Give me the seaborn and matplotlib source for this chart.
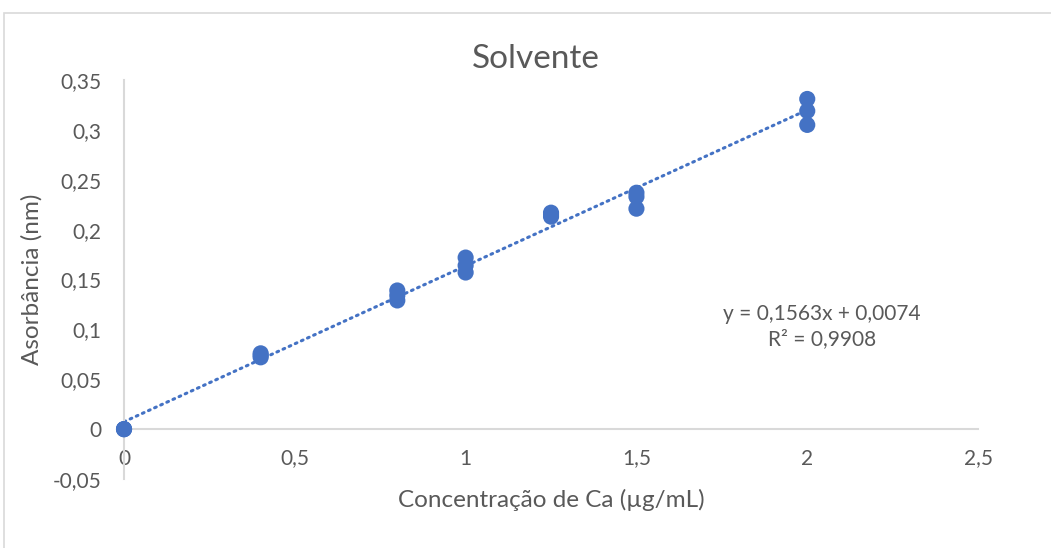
import numpy as np
import pandas as pd
import seaborn as sns
import matplotlib
matplotlib.use('Agg')
import matplotlib.pyplot as plt
from matplotlib.patches import Rectangle

# data
conc = [0, 0, 0, 0.4, 0.4, 0.4, 0.8, 0.8, 0.8, 1.0, 1.0, 1.0, 1.25, 1.25, 1.25, 1.5, 1.5, 1.5, 2.0, 2.0, 2.0]
absorb = [0, 0, 0, 0.076, 0.074, 0.072, 0.139, 0.134, 0.129, 0.172, 0.164, 0.157,
          0.217, 0.213, 0.215, 0.237, 0.233, 0.221, 0.331, 0.319, 0.305]
slope = 0.1563
intercept = 0.0074
r2 = 0.9908
x_ticks = [0, 0.5, 1, 1.5, 2, 2.5]
y_ticks = [-0.05, 0, 0.05, 0.1, 0.15, 0.2, 0.25, 0.3, 0.35]

blue = '#4472C4'
grey = '#D9D9D9'
text_col = '#595959'

sns.set_style('white')
plt.rcParams['font.family'] = ['Lato', 'DejaVu Sans']

def fmt(v):
    return f'{v:g}'.replace('.', ',')

df = pd.DataFrame({'conc': conc, 'abs': absorb})

fig = plt.figure(figsize=(10.51, 5.48), dpi=100)
ax = fig.add_axes([0.118, 0.1259, 0.8126, 0.7281])

# linear trendline (Excel style, dotted)
xs = np.array([0, 2.0])
ax.plot(xs, slope * xs + intercept, color=blue, lw=2.2,
        linestyle=(0, (0.6, 1.6)), dash_capstyle='round', zorder=2)

sns.scatterplot(data=df, x='conc', y='abs', ax=ax, s=135, color=blue,
                edgecolor='none', zorder=3, clip_on=False)

ax.set_xlim(0, 2.5)
ax.set_ylim(-0.05, 0.35)
ax.set_xticks(x_ticks)
ax.set_yticks(y_ticks)
ax.set_xticklabels([fmt(v) for v in x_ticks])
ax.set_yticklabels([fmt(v) for v in y_ticks])

for s in ['top', 'right']:
    ax.spines[s].set_visible(False)
ax.spines['bottom'].set_position(('data', 0))
ax.spines['bottom'].set_color(grey)
ax.spines['bottom'].set_linewidth(1.5)
ax.spines['left'].set_color(grey)
ax.spines['left'].set_linewidth(1.5)
ax.tick_params(axis='x', length=0, pad=14, labelsize=15, labelcolor=text_col)
ax.tick_params(axis='y', length=0, pad=16, labelsize=15, labelcolor=text_col)

ax.set_xlabel('Concentração de Ca (µg/mL)', fontsize=17.5, color=text_col)
ax.set_ylabel('Asorbância (nm)', fontsize=17.5, color=text_col)
ax.xaxis.set_label_coords(0.5, -0.025)
ax.yaxis.set_label_coords(-0.095, 0.5)

fig.text(0.51, 0.893, 'Solvente', ha='center', va='center', fontsize=24, color=text_col)

ax.text(2.043, 0.115, f'y = {fmt(slope)}x + {fmt(intercept)}', ha='center', va='center',
        fontsize=15, color=text_col)
ax.text(2.043, 0.090, f'R² = {fmt(r2)}', ha='center', va='center',
        fontsize=15, color=text_col)

fig.patches.append(Rectangle((0.004, -0.01), 1.0, 0.987, transform=fig.transFigure,
                             fill=False, edgecolor=grey, lw=1.2))

fig.savefig('out.png', dpi=100)
